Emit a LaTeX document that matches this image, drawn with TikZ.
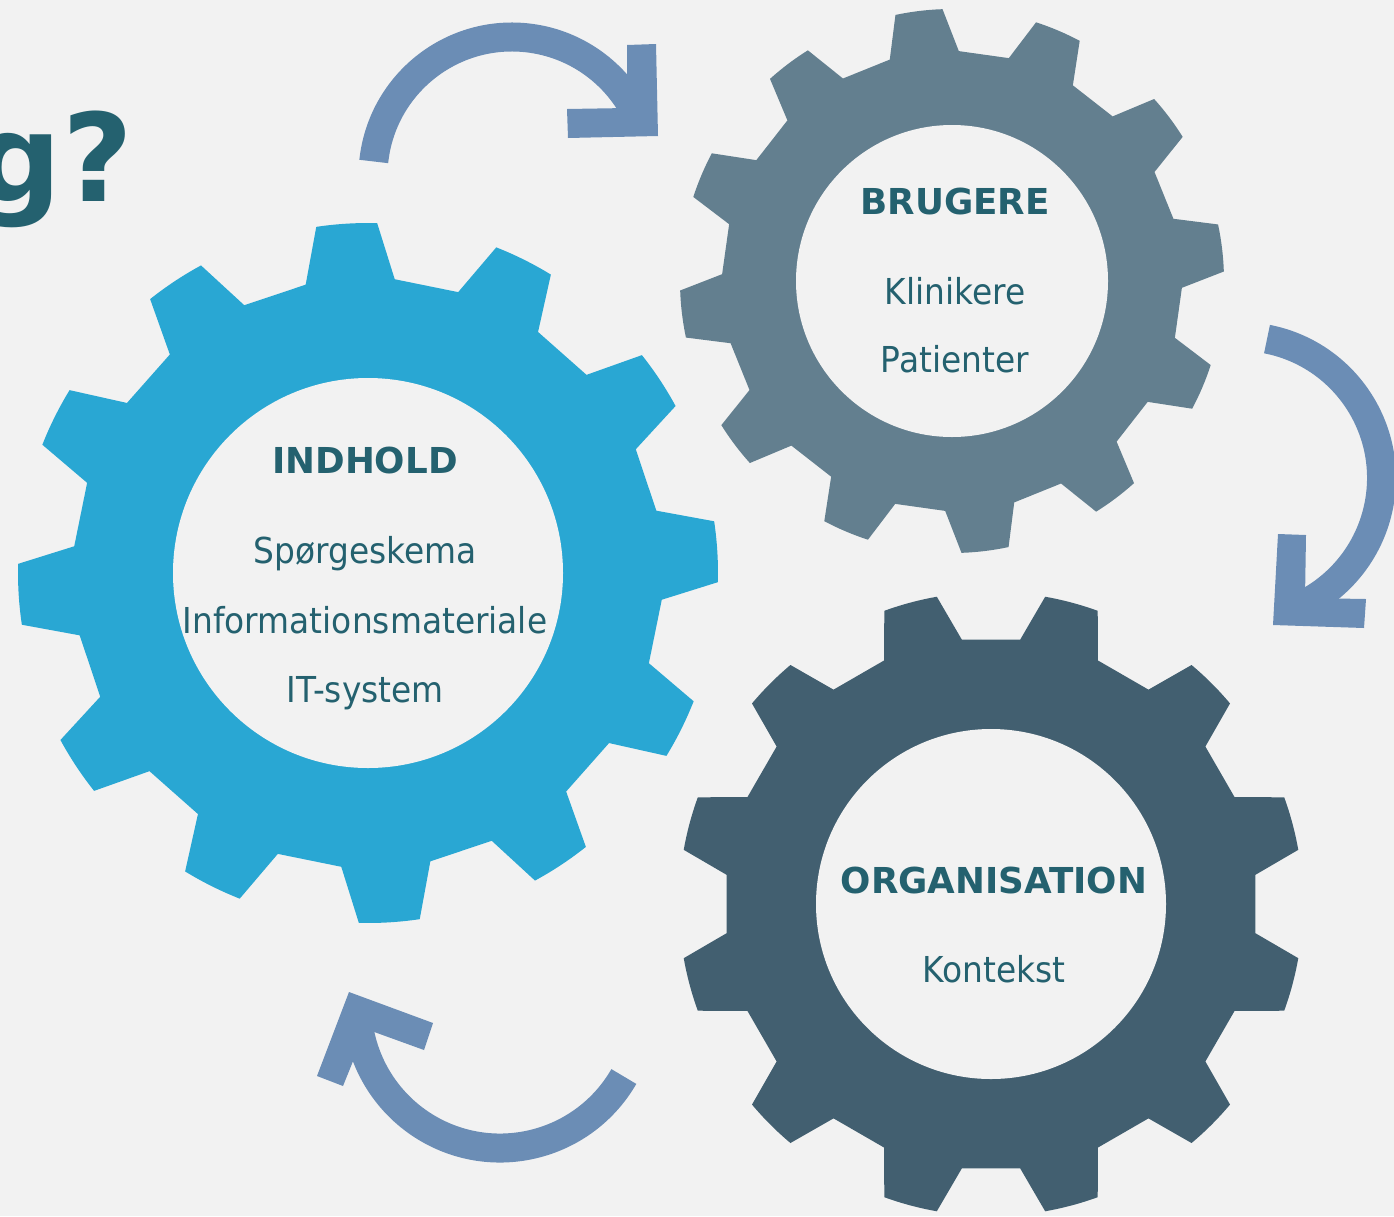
\documentclass[tikz,border=0pt]{standalone}
\usepackage{fontspec}
\setmainfont{DejaVu Sans}[FakeStretch=0.92]
\newfontfamily\hdfont{DejaVu Sans}
\definecolor{bg}{HTML}{F2F2F2}
\definecolor{gearA}{HTML}{29A7D3}
\definecolor{gearB}{HTML}{637F8F}
\definecolor{gearC}{HTML}{425F70}
\definecolor{arrowc}{HTML}{6B8DB5}
\definecolor{textc}{HTML}{24616F}
\newcommand\mygear[7]{%
  \begin{scope}[shift={(#1,#2)}]
    \fill[#6] ({#5-8.7}:#4) \foreach \k in {0,...,11}{
      -- ({#5+30*\k-8.7}:#4) -- ({#5+30*\k-5}:#3)
      arc[start angle={#5+30*\k-5}, end angle={#5+30*\k+5}, radius=#3]
      -- ({#5+30*\k+8.7}:#4)
    } -- cycle;
    \fill[bg] (0,0) circle (#7);
  \end{scope}}
\begin{document}
\begin{tikzpicture}[x=1pt,y=1pt,
  head/.style={font=\hdfont\bfseries\fontsize{35.7}{40}\selectfont, text=textc, anchor=base, inner sep=0},
  item/.style={font=\fontsize{35.7}{40}\selectfont, text=textc, anchor=base, inner sep=0},
  band/.style={draw=arrowc, line width=29pt},
  tip/.style={fill=arrowc}]
\useasboundingbox (0,0) rectangle (1394,-1216);
\fill[bg] (0,0) rectangle (1394,-1216);
\clip (0,0) rectangle (1394,-1216);

% title fragment
\node[font=\hdfont\bfseries\fontsize{122}{130}\selectfont, text=textc, anchor=base east, inner sep=0] (title) at (133,-201) {g?};

% gears
\mygear{368}{-573}{350}{295}{3.5}{gearA}{195}
\mygear{952}{-281}{272}{230}{7}{gearB}{156}
\mygear{991}{-904}{312}{266}{15}{gearC}{175}

% arrows
\draw[band, shift={(512,-176)}] (174:139) arc[start angle=174, end angle=25, radius=139];
\fill[tip] (627,-45) -- (656,-44) -- (658,-136) -- (568,-138) -- (567,-109) -- (627,-108) -- cycle;

\draw[band, shift={(1240,-478)}] (79:141.5) arc[start angle=79, end angle=-68, radius=141.5];
\fill[tip] (1278,-534) -- (1306,-535) -- (1305,-598) -- (1366,-599) -- (1364,-628) -- (1273,-625) -- cycle;

\draw[band, shift={(500,-1005)}] (-30:143) arc[start angle=-30, end angle=-175.7, radius=143];
\fill[tip] (349,-992) -- (433,-1023) -- (424,-1050) -- (366,-1029) -- (343,-1086) -- (317,-1076) -- cycle;

% texts
\node[head] (indhold) at (365,-473) {INDHOLD};
\node[item] (sp) at (365,-563) {Spørgeskema};
\node[item] (inf) at (365,-633) {Informationsmateriale};
\node[item] (it) at (365,-702) {IT-system};

\node[head] (brugere) at (955,-214) {BRUGERE};
\node[item] (klin) at (955,-304) {Klinikere};
\node[item] (pat) at (955,-372) {Patienter};

\node[head] (org) at (994,-893) {ORGANISATION};
\node[item] (kon) at (994,-982) {Kontekst};
\end{tikzpicture}
\end{document}
